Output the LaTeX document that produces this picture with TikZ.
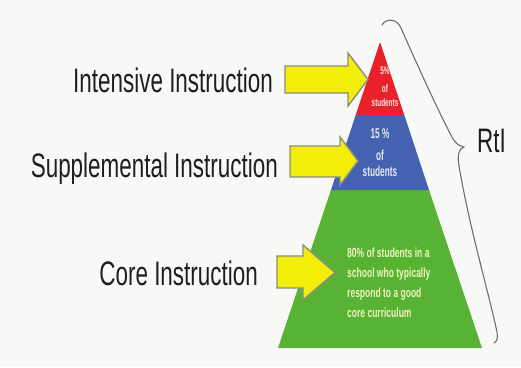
\documentclass[tikz,border=0pt]{standalone}
\usepackage{fontspec}
\setmainfont{Liberation Sans}
\newfontfamily\labfont{Liberation Sans}[FakeStretch=0.66]
\newfontfamily\pyrfont{Liberation Sans Bold}[FakeStretch=0.58]
\newfontfamily\greenfont{Liberation Sans Bold}[FakeStretch=0.64]
\definecolor{bg}{HTML}{F8F8F6}
\definecolor{tierred}{HTML}{E8222B}
\definecolor{tierblue}{HTML}{4462B0}
\definecolor{tiergreen}{HTML}{58B233}
\definecolor{arrowyel}{HTML}{F2EE0A}
\definecolor{arrowedge}{HTML}{8C8C80}
\definecolor{labtext}{HTML}{1E1E1E}
\definecolor{redtext}{HTML}{FBE3E3}
\definecolor{bluetext}{HTML}{E4E8F4}
\definecolor{greentext}{HTML}{EEF3C0}
\definecolor{bracecol}{HTML}{6E6E6E}
\tikzset{
  label text/.style={font=\labfont\fontsize{34}{40}\selectfont, text=labtext, inner sep=0pt},
  yarrow/.style={fill=arrowyel, draw=arrowedge, line width=1.4pt, line join=miter},
  tier text/.style={inner sep=0pt, align=center},
}
\begin{document}
\begin{tikzpicture}[x=1pt,y=-1pt]
\useasboundingbox (0,0) rectangle (521,367);
\fill[bg] (0,0) rectangle (521,367);
% pyramid tiers
\coordinate (apex) at (380,42);
\fill[tiergreen] (331,190) -- (429,190) -- (482,348) -- (278,348) -- cycle;
\fill[tierblue] (355.7,115) -- (404.3,115) -- (429,190) -- (331,190) -- cycle;
\fill[tierred] (apex) -- (404.3,115) -- (355.7,115) -- cycle;
% tier texts (anchor = baseline of last line)
\node[tier text, text=redtext, font=\pyrfont\fontsize{11}{14}\selectfont, anchor=base] (redt) at (385,106) {5\%\\[4pt]of\\students};
\node[tier text, text=bluetext, font=\pyrfont\fontsize{14.3}{16}\selectfont, anchor=base] (bluet) at (380,176) {15 \%\\[6pt]of\\students};
\node[tier text, text=greentext, font=\greenfont\fontsize{13.3}{20}\selectfont, align=left, anchor=base west] (greent) at (347,317) {80\% of students in a\\school who typically\\respond to a good\\core curriculum};
% arrows
\draw[yarrow] (285,66) -- (348,66) -- (348,53) -- (368,79.5) -- (348,106) -- (348,93) -- (285,93) -- cycle;
\draw[yarrow] (290,146) -- (340,146) -- (340,137) -- (358,161) -- (340,185) -- (340,177) -- (290,177) -- cycle;
\draw[yarrow] (277,256) -- (303,256) -- (303,245) -- (335,272.5) -- (303,300) -- (303,288) -- (277,288) -- cycle;
% labels
\node[label text, anchor=base east] (intensive) at (273,92) {Intensive Instruction};
\node[label text, anchor=base east] (supplemental) at (278,177) {Supplemental Instruction};
\node[label text, anchor=base east] (core) at (258,285) {Core Instruction};
\node[label text, anchor=base west] (rti) at (477,152) {RtI};
% brace
\draw[bracecol, line width=1.1pt, line cap=round]
  (382,25) .. controls (385,19) and (396,17) .. (401,28)
  .. controls (415,60) and (440,115) .. (452,137)
  .. controls (455,143) and (459,146) .. (464,147)
  .. controls (459,149) and (457,154) .. (459,166)
  .. controls (470,230) and (488,290) .. (497,332)
  .. controls (498,338) and (497,342) .. (494,343);
\end{tikzpicture}
\end{document}
